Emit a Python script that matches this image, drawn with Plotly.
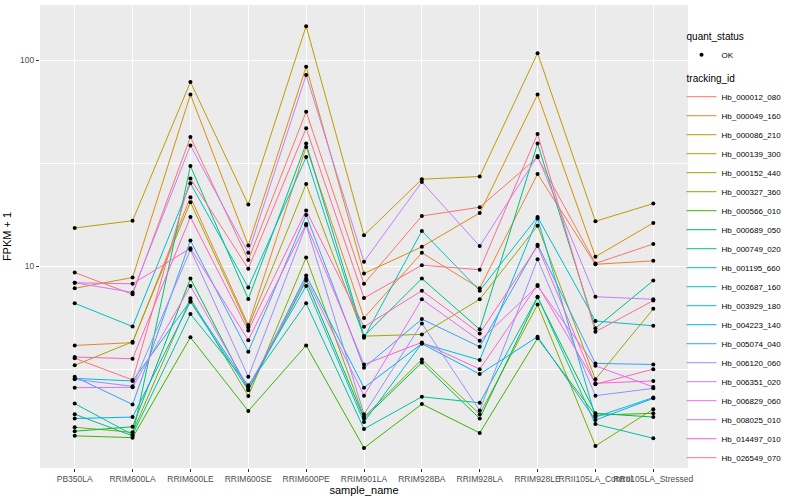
import plotly.graph_objects as go

samples = ["PB350LA", "RRIM600LA", "RRIM600LE", "RRIM600SE", "RRIM600PE", "RRIM901LA",
           "RRIM928BA", "RRIM928LA", "RRIM928LE", "RRII105LA_Control", "RRII105LA_Stressed"]

tracking_ids = ["Hb_000012_080", "Hb_000049_160", "Hb_000086_210", "Hb_000139_300", "Hb_000152_440",
                "Hb_000327_360", "Hb_000566_010", "Hb_000689_050", "Hb_000749_020", "Hb_001195_660",
                "Hb_002687_160", "Hb_003929_180", "Hb_004223_140", "Hb_005074_040", "Hb_006120_060",
                "Hb_006351_020", "Hb_006829_060", "Hb_008025_010", "Hb_014497_010", "Hb_026549_070"]

colors = ["#F8766D", "#EA8331", "#D89000", "#C09B00", "#A3A500", "#7CAE00", "#39B600", "#00BB4E",
          "#00BF7D", "#00C1A3", "#00BFC4", "#00BAE0", "#00B0F6", "#35A2FF", "#9590FF", "#C77CFF",
          "#E76BF3", "#FA62DB", "#FF62BC", "#FF6C91"]

v_000012_080 = [9.3, 7.29, 42.3, 10.7, 56.1, 8.2, 17.5, 19.3, 33.7, 10.3, 12.8]
v_000049_160 = [4.12, 4.25, 21.6, 5.17, 37.8, 5.6, 11.6, 7.8, 28.0, 10.2, 10.6]
v_000086_210 = [7.8, 8.8, 68.0, 12.6, 92.8, 9.2, 12.4, 18.1, 68.0, 11.1, 16.2]
v_000139_300 = [15.3, 16.6, 78.2, 19.9, 146.0, 14.1, 26.4, 27.2, 108.0, 16.5, 20.1]
v_000152_440 = [3.30, 4.29, 20.4, 5.04, 25.0, 4.57, 4.66, 6.9, 15.7, 2.82, 6.2]
v_000327_360 = [1.65, 1.56, 6.97, 2.34, 11.0, 1.85, 3.52, 1.91, 6.5, 1.34, 2.02]
v_000566_010 = [1.50, 1.47, 4.51, 1.98, 4.12, 1.31, 2.14, 1.55, 4.46, 1.89, 1.93]
v_000689_050 = [1.58, 1.66, 8.7, 2.50, 8.5, 1.82, 3.40, 1.82, 7.05, 1.93, 1.85]
v_000749_020 = [1.91, 1.50, 30.6, 6.92, 39.3, 4.57, 8.7, 4.93, 39.3, 4.99, 8.5]
v_001195_660 = [2.15, 1.52, 5.85, 2.64, 6.6, 1.62, 2.32, 2.17, 7.1, 1.71, 1.46]
v_002687_160 = [6.6, 5.09, 25.2, 7.88, 33.8, 4.49, 14.8, 7.6, 17.3, 5.41, 5.13]
v_003929_180 = [2.85, 2.77, 6.79, 2.60, 8.0, 1.75, 4.22, 3.50, 17.0, 1.85, 2.30]
v_004223_140 = [1.82, 1.85, 6.71, 2.50, 9.0, 2.57, 4.20, 2.99, 4.54, 1.79, 2.28]
v_005074_040 = [2.90, 2.13, 13.3, 3.84, 17.7, 3.21, 5.53, 4.06, 12.7, 3.37, 3.33]
v_006120_060 = [2.82, 2.61, 12.0, 2.90, 15.8, 1.91, 5.27, 1.99, 10.8, 2.35, 2.55]
v_006351_020 = [8.3, 7.45, 38.5, 11.6, 84.6, 10.5, 25.6, 12.5, 34.2, 7.1, 6.9]
v_006829_060 = [2.57, 2.58, 8.0, 2.57, 8.7, 2.35, 6.9, 4.34, 8.0, 3.28, 2.59]
v_008025_010 = [8.3, 8.2, 12.2, 4.37, 16.0, 3.33, 4.26, 3.16, 8.1, 2.70, 2.77]
v_014497_010 = [3.62, 3.55, 17.3, 4.87, 18.6, 5.07, 7.6, 4.71, 12.5, 2.67, 3.16]
v_026549_070 = [3.57, 2.80, 26.6, 9.7, 46.6, 7.0, 10.1, 9.6, 43.8, 4.8, 6.8]

series = [v_000012_080, v_000049_160, v_000086_210, v_000139_300, v_000152_440, v_000327_360,
          v_000566_010, v_000689_050, v_000749_020, v_001195_660, v_002687_160, v_003929_180,
          v_004223_140, v_005074_040, v_006120_060, v_006351_020, v_006829_060, v_008025_010,
          v_014497_010, v_026549_070]

fig = go.Figure()

for i, (tid, vals) in enumerate(zip(tracking_ids, series)):
    fig.add_trace(go.Scatter(
        x=samples, y=vals, mode="lines", name=tid,
        line=dict(color=colors[i], width=1.0),
        legendgroup="tracking",
        legendgrouptitle=dict(text="tracking_id", font=dict(size=10, color="black")) if i == 0 else None,
        legendrank=2 + i,
    ))

all_x, all_y = [], []
for vals in series:
    all_x += samples
    all_y += vals

fig.add_trace(go.Scatter(
    x=all_x, y=all_y, mode="markers", name="OK",
    marker=dict(color="black", size=4),
    legendgroup="quant", legendgrouptitle=dict(text="quant_status", font=dict(size=10, color="black")),
    legendrank=1,
))

fig.update_layout(
    width=800, height=500,
    margin=dict(l=40, r=112, t=5, b=32, autoexpand=False),
    paper_bgcolor="white", plot_bgcolor="#EBEBEB",
    font=dict(family="Liberation Sans, Arial, sans-serif", size=9, color="#4D4D4D"),
    showlegend=True,
    legend=dict(
        x=0.99, y=0.965, xanchor="left", yanchor="top",
        font=dict(size=8, color="#000000"), tracegroupgap=4,
        groupclick="toggleitem", itemwidth=30,
        traceorder="grouped", bgcolor="rgba(0,0,0,0)",
    ),
)

fig.update_xaxes(
    type="category", categoryorder="array", categoryarray=samples,
    range=[-0.6, 10.6], showgrid=True, gridcolor="white", gridwidth=1.1,
    ticks="outside", ticklen=3, tickcolor="#333333", tickangle=0,
    tickfont=dict(size=8.5, color="#4D4D4D"),
    title=dict(text="sample_name", font=dict(size=11, color="black"), standoff=2),
    zeroline=False, showline=False,
)

fig.update_yaxes(
    type="log", range=[0.02, 2.267],
    tickvals=[10, 100], ticktext=["10", "100"],
    showgrid=True, gridcolor="white", gridwidth=1.1,
    minor=dict(tickvals=[10 ** 0.5, 10 ** 1.5], showgrid=True, gridcolor="white", gridwidth=0.5, ticks=""),
    ticks="outside", ticklen=3, tickcolor="#333333",
    tickfont=dict(size=8.5, color="#4D4D4D"),
    title=dict(text="FPKM + 1", font=dict(size=11, color="black"), standoff=6),
    zeroline=False, showline=False,
)

fig.write_html("out.html", config={"displayModeBar": False},
               post_script="document.body.style.margin='0';document.body.style.padding='0';")
